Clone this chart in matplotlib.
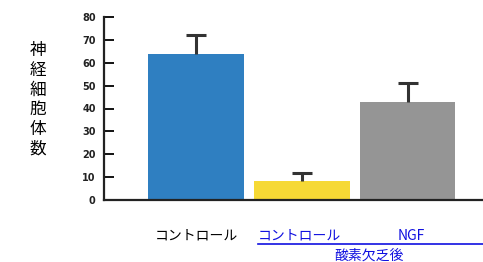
import matplotlib
matplotlib.use("Agg")
import matplotlib.pyplot as plt
from matplotlib.lines import Line2D

plt.rcParams['font.family'] = ['Noto Sans CJK JP', 'DejaVu Sans']

categories = ["コントロール", "コントロール", "NGF"]
values = [64, 8.5, 43]
errors = [8, 3.5, 8]
colors = ["#2f7fc1", "#f6d935", "#959595"]
label_colors = ["black", "#1010e0", "#1010e0"]
group_label = "酸素欠乏後"
ylabel = "神経細胞体数"
yticks = [0, 10, 20, 30, 40, 50, 60, 70, 80]

fig = plt.figure(figsize=(4.83, 2.62), dpi=100)
ax = fig.add_axes([104/483, 1-200/262, 1-104/483, 183/262])

x = [0, 1, 2]
ax.bar(x, values, width=0.9, color=colors, zorder=2)
eb = ax.errorbar(x, values, yerr=[[0]*3, errors], fmt='none', ecolor='#333333',
                 elinewidth=2.2, capsize=7, capthick=2.2, zorder=3)
eb[1][0].set_visible(False)  # hide lower caps

ax.set_xlim(-0.87, 2.71)
ax.set_ylim(0, 80)
ax.set_yticks(yticks)
ax.set_yticklabels([str(t) for t in yticks], fontsize=7, fontweight='bold',
                   family='DejaVu Sans', color='#222222')
ax.tick_params(axis='y', direction='in', length=7, width=1.3, pad=6)
ax.set_xticks([])
for s in ['top', 'right']:
    ax.spines[s].set_visible(False)
ax.spines['left'].set_linewidth(1.6)
ax.spines['bottom'].set_linewidth(1.6)
ax.spines['left'].set_color('#222222')
ax.spines['bottom'].set_color('#222222')

# y label stacked vertically
fig.text(38/483, 1-100/262, "\n".join(ylabel), ha='center', va='center',
         fontsize=12, linespacing=1.2)

# category labels
px = [196, 299, 411]
for p, c, col in zip(px, categories, label_colors):
    fig.text(p/483, 1-236/262, c, ha='center', va='center', fontsize=10, color=col)

fig.add_artist(Line2D([258/483, 483/483], [1-243.5/262, 1-243.5/262],
                      color='#1010e0', lw=1.2, transform=fig.transFigure))
fig.text(369/483, 1-256/262, group_label, ha='center', va='center',
         fontsize=10, color='#1010e0')

fig.savefig("out.png", dpi=100)
